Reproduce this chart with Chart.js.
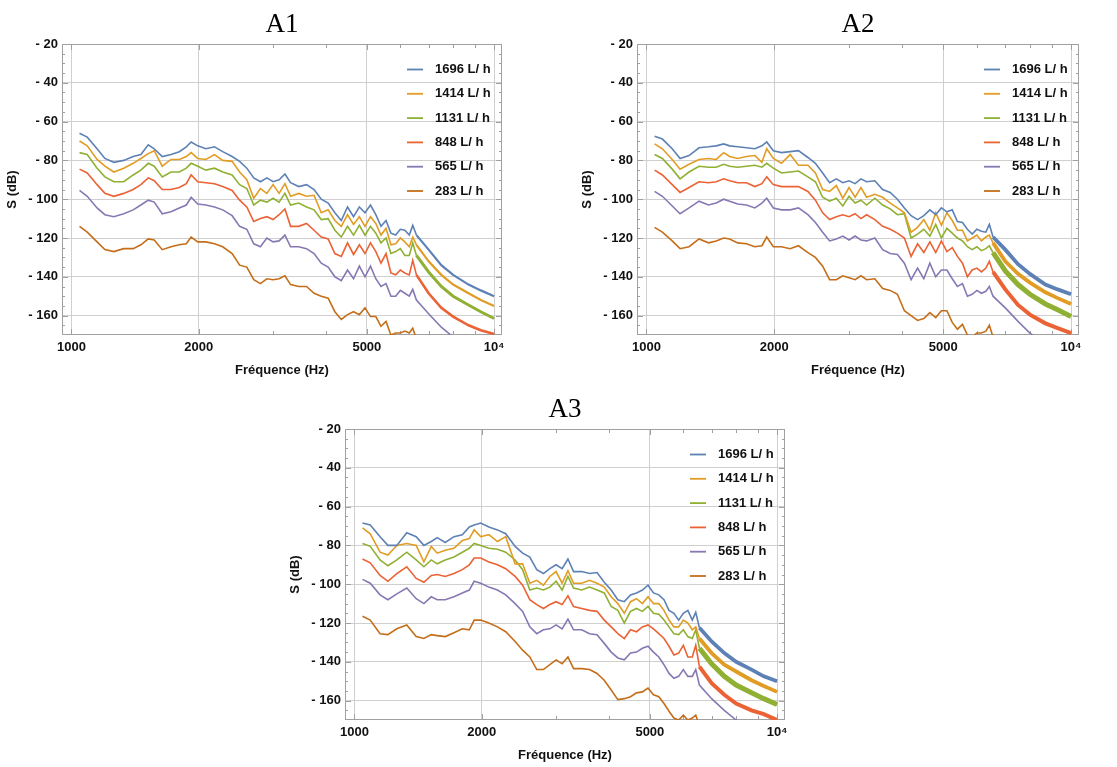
<!DOCTYPE html>
<html>
<head>
<meta charset="utf-8">
<script src="https://cdn.jsdelivr.net/npm/chart.js@4.4.1/dist/chart.umd.min.js"></script>
<style>
  body { margin: 0; background: #fff; width: 1117px; height: 767px; position: relative; overflow: hidden; }
  canvas { position: absolute; }
</style>
</head>
<body>
<canvas id="chartA1" width="540" height="390" style="left:0px;top:0px"></canvas>
<canvas id="chartA2" width="540" height="390" style="left:575px;top:0px"></canvas>
<canvas id="chartA3" width="540" height="390" style="left:283px;top:385px"></canvas>
<script>
// shared frequency grid (Hz)
const freqHz = [1045, 1090, 1150, 1200, 1260, 1330, 1400, 1460, 1520, 1570,
  1640, 1720, 1800, 1870, 1920, 1990, 2080, 2180, 2280, 2400,
  2500, 2600, 2700, 2800, 2900, 3000, 3100, 3200, 3300, 3450,
  3600, 3750, 3900, 4050, 4200, 4350, 4500, 4650, 4800, 4950,
  5100, 5250, 5400, 5550, 5700, 5850, 6000, 6150, 6300, 6420,
  6550, 7000, 7500, 8000, 8700, 9300, 10000];

const seriesLabels = ['1696 L/ h', '1414 L/ h', '1131 L/ h', '848 L/ h', '565 L/ h', '283 L/ h'];
const seriesColors = ['#5E81B5', '#E19C24', '#8FB032', '#EB6235', '#8778B3', '#C56E1A'];

const xTickValues = [1000, 2000, 3000, 4000, 5000, 6000, 7000, 8000, 9000, 10000];
const xTickLabels = { 1000: '1000', 2000: '2000', 5000: '5000', 10000: '10⁴' };
const yTickValues = [-160, -140, -120, -100, -80, -60, -40, -20];

// A1
const a1_1696 = [-66, -68, -74, -79, -81, -80, -78, -77, -72, -74, -78, -77, -75.5, -73, -70.5, -72.5, -74, -73, -75.5, -78, -80.5, -84, -89, -91, -89, -91, -90, -87, -91.5, -93.5, -92.5, -95, -100, -102, -107, -111, -104, -109, -104, -107, -103, -108, -114, -111, -117.5, -118.5, -115.5, -116, -118.5, -113.5, -118.5, -126, -134, -139, -144, -147, -150];
const a1_1414 = [-70, -72.5, -79.5, -83, -86, -84, -81.5, -79, -76.5, -75, -83, -79.5, -79.5, -78, -76, -79, -79.5, -77, -80, -80.5, -86, -90, -99.5, -94.5, -97, -92.5, -97, -92, -98.5, -97, -98.5, -98, -107, -105.5, -111, -114, -108, -113, -109, -114, -109, -112.5, -118.5, -115, -123.5, -123, -120, -122, -124.5, -119.5, -123.5, -132, -139, -144, -148.5, -152, -155];
const a1_1131 = [-76, -77, -84, -88.5, -91, -91, -87.5, -85, -81.5, -83, -88.5, -86, -86, -84, -81.5, -83, -85, -84, -86, -87.5, -92.5, -94.5, -103, -100.5, -101.5, -99.5, -101.5, -97, -103, -102, -104, -105.5, -110.5, -110, -116, -119.5, -114, -118.5, -113.5, -118.5, -114, -117.5, -122.5, -120, -128, -127, -125.5, -129, -129, -122.5, -129, -137.5, -145, -150, -154.5, -158, -161.5];
const a1_848 = [-84.5, -86.5, -92.5, -97, -98.5, -97, -95, -92.5, -89, -90.5, -95, -95, -94, -92, -87.5, -91, -91.5, -92, -93.5, -95.5, -100.5, -104, -111.5, -110, -109, -110.5, -108, -105, -114, -114, -112.5, -116, -119.5, -120.5, -128, -129.5, -122.5, -128.5, -123.5, -128, -122.5, -127, -133, -128, -138, -139, -136.5, -138, -139, -131.5, -139, -148.5, -156, -160.5, -165, -167.5, -169.5];
const a1_565 = [-95.5, -98.5, -104.5, -108, -109, -107.5, -105.5, -103, -100.5, -101.5, -107.5, -106.5, -104.5, -103, -99, -102.5, -103, -104, -105.5, -108.5, -114, -115.5, -123, -124.5, -120, -122, -121.5, -118.5, -124.5, -124.5, -125.5, -128, -133, -135, -140, -142, -136.5, -141, -134.5, -140, -134.5, -141, -145, -143.5, -150, -150, -147, -148.5, -150, -146.5, -152, -159, -166, -171, -175, -180, -184];
const a1_283 = [-114, -117, -122, -126, -127, -125.5, -125.5, -123.5, -120.5, -121, -126, -124.5, -123.5, -123, -119.5, -122, -122, -123, -124.5, -128, -134, -135, -141.5, -143.5, -141, -141.5, -141, -139.5, -144, -145, -145, -148.5, -150, -151, -158, -162, -159.5, -158, -159.5, -156, -160.5, -160.5, -165.5, -163, -170, -169, -169, -168, -169, -166.5, -172, -180, -188, -194, -200, -205, -210];

// A2
const a2_1696 = [-67.5, -69, -74, -79, -77.5, -73.5, -73, -72.5, -71.5, -72.5, -73, -73.5, -74, -72.5, -70.5, -75, -76, -75.5, -75, -78.5, -81.5, -86.5, -91.5, -89.5, -91.5, -90.5, -92, -89.5, -91, -90.5, -95, -96.5, -100, -104.5, -108.5, -110.5, -108.5, -105.5, -108, -104.5, -106.5, -105.5, -111.5, -112, -115.5, -118, -115.5, -116.5, -117, -113, -119.5, -126, -133.5, -138.5, -144, -146.5, -149];
const a2_1414 = [-71.5, -74, -79.5, -84.5, -82, -79.5, -79, -79.5, -76, -78, -79, -78, -77.5, -81, -74, -79, -81.5, -77, -82.5, -82.5, -86.5, -95, -96, -93, -99.5, -94, -99, -94, -99, -97.5, -99, -102, -104.5, -107, -117, -114.5, -110.5, -116, -107, -113.5, -107, -111, -116, -116, -121.5, -120, -118.5, -121.5, -119.5, -118.5, -122.5, -132, -138.5, -143, -148, -151, -154];
const a2_1131 = [-77, -79, -84.5, -89.5, -86, -83, -83.5, -83.5, -82, -83, -83.5, -83, -82.5, -83.5, -81.5, -84, -86.5, -86, -85.5, -88.5, -91, -99, -101, -99.5, -103.5, -98.5, -102, -100.5, -103, -99.5, -103, -105, -108, -107.5, -120, -118, -115.5, -119, -113, -120, -115, -117.5, -120, -121.5, -124.5, -126, -124.5, -126.5, -125.5, -124, -127.5, -137, -144, -149, -154, -157, -160.5];
const a2_848 = [-85, -87.5, -92.5, -96.5, -94, -91, -91.5, -91, -89.5, -90.5, -91.5, -91.5, -93.5, -92, -88.5, -92.5, -93.5, -93.5, -93.5, -96, -100.5, -107, -110.5, -109, -108, -109, -107.5, -110, -108, -110.5, -114, -115.5, -117.5, -120, -129.5, -123, -127.5, -122, -127.5, -121.5, -127, -125, -129.5, -133, -140, -136.5, -135.5, -137.5, -135.5, -132, -137.5, -146.5, -154.5, -159.5, -164, -166.5, -169];
const a2_565 = [-96, -98.5, -103.5, -107.5, -104.5, -101, -103, -102, -100, -101, -102.5, -103, -104.5, -102, -99.5, -104.5, -105.5, -105.5, -104.5, -108, -112, -117, -121.5, -120.5, -119, -121, -119, -121, -121.5, -120, -126, -128, -128.5, -133, -141.5, -135.5, -141, -133, -140, -136.5, -136.5, -141, -145, -143.5, -150, -149, -147, -148.5, -147.5, -145, -150, -156, -163, -169, -175, -179, -183];
const a2_283 = [-114.5, -117, -121.5, -125.5, -124.5, -120.5, -122.5, -121.5, -120, -120.5, -122.5, -123, -124.5, -124, -119.5, -124.5, -124.5, -125.5, -124, -127.5, -130, -134.5, -141.5, -141.5, -139.5, -140.5, -141.5, -139.5, -141.5, -141, -146, -147, -149, -157.5, -160, -162.5, -161.5, -158.5, -161, -157.5, -157.5, -163.5, -167, -164.5, -170, -171, -169, -169, -168, -165, -171, -180, -188, -194, -200, -205, -210];

// A3
const a3_1696 = [-68.5, -69.5, -75.5, -80, -80, -73.5, -75.5, -80, -78, -76, -78.5, -75.5, -74.5, -70.5, -69.5, -68.5, -70.5, -72, -74, -80.5, -84, -86, -92.5, -94.5, -92, -90, -92, -87, -93.5, -93.5, -94.5, -94, -99, -103, -108, -109, -105.5, -104.5, -103, -100.5, -104.5, -105.5, -108, -113.5, -115, -118.5, -115, -113.5, -118.5, -114.5, -122.5, -129.5, -135.5, -140, -144, -147.5, -150];
const a3_1414 = [-71, -74, -83.5, -85, -80, -79, -80, -88.5, -80.5, -84, -82.5, -81.5, -77.5, -76.5, -72, -75.5, -74.5, -78, -75.5, -89.5, -89.5, -99.5, -98, -100.5, -96, -93.5, -99.5, -93, -99.5, -99.5, -98, -99.5, -101.5, -106.5, -110, -115, -109, -107.5, -110, -106.5, -110, -110, -113.5, -118.5, -122, -122, -118.5, -120, -123.5, -122, -128, -135.5, -141.5, -145, -149.5, -152.5, -155.5];
const a3_1131 = [-79, -80.5, -87.5, -90.5, -87.5, -83.5, -87.5, -91, -87.5, -89.5, -87.5, -86, -83.5, -81.5, -79, -80, -81.5, -82, -83.5, -87.5, -92.5, -103, -102, -103, -101.5, -98.5, -103, -96, -102, -103, -101.5, -103, -104.5, -111.5, -113.5, -120, -114, -112.5, -114, -111.5, -115, -115.5, -118.5, -122, -125.5, -126, -123.5, -127, -128, -123.5, -133, -141, -147.5, -152, -156, -159, -162];
const a3_848 = [-87, -89, -95.5, -98.5, -94.5, -91, -97, -99, -95.5, -95, -96, -94.5, -92.5, -90, -86.5, -86.5, -88.5, -90, -92, -96, -100.5, -108, -110.5, -112.5, -110.5, -109, -110.5, -106, -111.5, -112.5, -113.5, -114, -118.5, -122, -125.5, -128, -123.5, -124.5, -122, -121, -123, -125.5, -128, -132, -136.5, -135.5, -131.5, -137.5, -137.5, -131.5, -142.5, -151, -157, -161.5, -165, -167, -170];
const a3_565 = [-97.5, -99.5, -105.5, -108, -105, -102, -107.5, -110, -106.5, -108, -108, -106.5, -104.5, -103, -98.5, -99.5, -101.5, -103, -105.5, -110, -114, -122, -125.5, -123.5, -123, -121, -123, -118, -123.5, -123.5, -125.5, -126, -130.5, -135, -138, -139, -135.5, -135, -133, -132, -135, -137.5, -141.5, -146, -148.5, -147.5, -144, -147.5, -147.5, -144, -152, -159, -165, -170, -175, -180, -184];
const a3_283 = [-116.5, -118.5, -125.5, -126, -123, -121, -127, -128, -126, -126.5, -127, -125, -123, -123.5, -118.5, -118.5, -120, -122, -124.5, -129.5, -134, -137.5, -144, -144, -141.5, -139, -141, -137.5, -143.5, -143.5, -144, -146, -149.5, -154.5, -159.5, -159, -158, -156, -155.5, -153.5, -157, -158, -161.5, -165.5, -169, -170, -167.5, -170, -169, -167.5, -173, -180, -188, -194, -200, -205, -210];

const labelFont = { family: '"Liberation Sans", Arial, sans-serif', weight: 'bold', size: 13 };

// frame, inner ticks, legend and panel title
const panelDecor = {
    id: 'panelDecor',
    beforeDatasetsDraw(chart) {
        const { ctx, chartArea: a, scales } = chart;
        const x = scales.x, y = scales.y;
        ctx.save();
        ctx.strokeStyle = '#a0a0a0';
        ctx.lineWidth = 1;
        ctx.beginPath();
        xTickValues.forEach(v => {
            const px = Math.round(x.getPixelForValue(v)) + 0.5;
            const len = xTickLabels[v] ? 6 : 4;
            ctx.moveTo(px, a.bottom); ctx.lineTo(px, a.bottom - len);
            ctx.moveTo(px, a.top); ctx.lineTo(px, a.top + len);
        });
        for (let v = -165; v <= -25; v += 5) {
            const py = Math.round(y.getPixelForValue(v)) + 0.5;
            const len = v % 20 === 0 ? 6 : 3;
            ctx.moveTo(a.left, py); ctx.lineTo(a.left + len, py);
            ctx.moveTo(a.right, py); ctx.lineTo(a.right - len, py);
        }
        ctx.stroke();
        ctx.strokeRect(Math.round(a.left) + 0.5, Math.round(a.top) + 0.5, Math.round(a.width) - 1, Math.round(a.height) - 1);
        ctx.restore();
    },
    afterDraw(chart, args, opts) {
        const { ctx, chartArea: a } = chart;
        ctx.save();
        chart.data.datasets.forEach((ds, i) => {
            const yy = a.top + 25.5 + i * 24.3;
            ctx.strokeStyle = ds.borderColor;
            ctx.lineWidth = 1.8;
            ctx.beginPath();
            ctx.moveTo(a.right - 95, yy);
            ctx.lineTo(a.right - 79, yy);
            ctx.stroke();
            ctx.fillStyle = '#111';
            ctx.font = 'bold 13px "Liberation Sans", Arial, sans-serif';
            ctx.textBaseline = 'middle';
            ctx.textAlign = 'left';
            ctx.fillText(ds.label, a.right - 67, yy);
        });
        ctx.fillStyle = '#000';
        ctx.font = '27px "Liberation Serif", "Times New Roman", serif';
        ctx.textAlign = 'center';
        ctx.textBaseline = 'middle';
        ctx.fillText(opts.title, (a.left + a.right) / 2, a.top - 19);
        ctx.restore();
    }
};

function makeChart(canvasId, title, valueLists, tailWidths, padRight) {
    const datasets = valueLists.map((vals, i) => ({
        label: seriesLabels[i],
        data: freqHz.map((f, k) => ({ x: f, y: vals[k] })),
        borderColor: seriesColors[i],
        borderWidth: 1.6,
        pointRadius: 0,
        tension: 0,
        segment: {
            borderWidth: ctx => ctx.p0.parsed.x >= 6550 ? tailWidths[i] : 1.6
        }
    }));

    return new Chart(document.getElementById(canvasId), {
        type: 'line',
        data: { datasets: datasets },
        options: {
            responsive: false,
            animation: false,
            devicePixelRatio: 1,
            layout: { padding: { top: 44, right: padRight, left: 0, bottom: 0 } },
            scales: {
                x: {
                    type: 'logarithmic',
                    min: 950,
                    max: 10440,
                    afterBuildTicks: scale => { scale.ticks = xTickValues.map(v => ({ value: v })); },
                    afterFit: scale => { scale.height = 55; },
                    ticks: {
                        autoSkip: false,
                        maxRotation: 0,
                        padding: 5,
                        color: '#111',
                        font: labelFont,
                        callback: value => xTickLabels[value] || ''
                    },
                    grid: {
                        drawTicks: false,
                        color: c => (c.tick && xTickLabels[c.tick.value]) ? '#cfcfcf' : 'rgba(0,0,0,0)'
                    },
                    border: { display: false },
                    title: { display: true, text: 'Fréquence (Hz)', color: '#111', font: labelFont, padding: { top: 0, bottom: 12 } }
                },
                y: {
                    min: -170,
                    max: -20,
                    afterBuildTicks: scale => { scale.ticks = yTickValues.map(v => ({ value: v })); },
                    afterFit: scale => { scale.width = 62; },
                    ticks: {
                        padding: 4,
                        color: '#111',
                        font: labelFont,
                        callback: value => '- ' + Math.abs(value)
                    },
                    grid: { drawTicks: false, color: '#cfcfcf' },
                    border: { display: false },
                    title: { display: true, text: 'S (dB)', color: '#111', font: labelFont, padding: { top: 5, bottom: 0 } }
                }
            },
            plugins: {
                legend: { display: false },
                tooltip: { enabled: false },
                panelDecor: { title: title }
            }
        },
        plugins: [panelDecor]
    });
}

makeChart('chartA1', 'A1', [a1_1696, a1_1414, a1_1131, a1_848, a1_565, a1_283], [2.2, 2.2, 3, 2.6, 1.6, 1.6], 38);
makeChart('chartA2', 'A2', [a2_1696, a2_1414, a2_1131, a2_848, a2_565, a2_283], [3.8, 3.8, 5, 4, 1.6, 1.6], 36);
makeChart('chartA3', 'A3', [a3_1696, a3_1414, a3_1131, a3_848, a3_565, a3_283], [3.8, 3.8, 5, 4, 1.6, 1.6], 38);
</script>
</body>
</html>
